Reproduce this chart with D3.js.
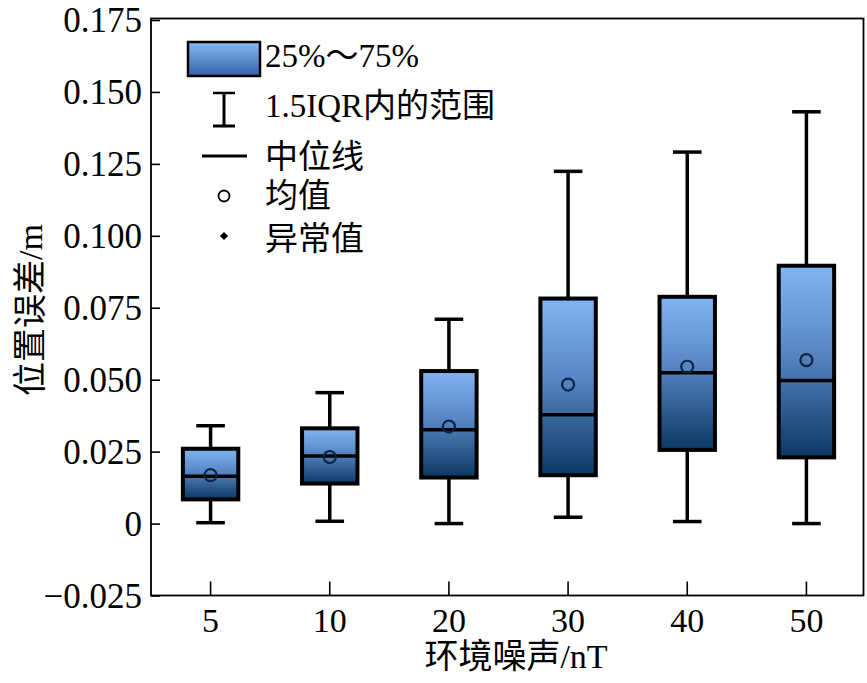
<!DOCTYPE html>
<html>
<head>
<meta charset="utf-8">
<script src="https://cdn.jsdelivr.net/npm/d3@7/dist/d3.min.js"></script>
<style>
html,body{margin:0;padding:0;background:#fff;}
svg{display:block;}
text{font-family:"Liberation Serif","Times New Roman","Noto Sans CJK SC",serif;fill:#000;}
</style>
</head>
<body>
<svg id="chart" width="867" height="683"></svg>
<script>
// ---- data ----
const categories = ["5","10","20","30","40","50"];
const whiskerLow  = [0.0003, 0.0008, 0.0000, 0.0022, 0.0007, 0.0000];
const q1Values    = [0.0084, 0.0139, 0.0160, 0.0168, 0.0256, 0.0230];
const medianValues= [0.0164, 0.0235, 0.0326, 0.0378, 0.0524, 0.0497];
const meanValues  = [0.0168, 0.0231, 0.0337, 0.0483, 0.0545, 0.0568];
const q3Values    = [0.0260, 0.0331, 0.0530, 0.0782, 0.0788, 0.0896];
const whiskerHigh = [0.0340, 0.0455, 0.0710, 0.1224, 0.1291, 0.1431];
const yTicks = [-0.025, 0, 0.025, 0.05, 0.075, 0.1, 0.125, 0.15, 0.175];
const yTickLabels = ["\u22120.025","0","0.025","0.050","0.075","0.100","0.125","0.150","0.175"];
const legendLabels = ["25%\uFF5E75%","1.5IQR内的范围","中位线","均值","异常值"];
const xTitle = "环境噪声/nT";
const yTitle = "位置误差/m";

const svg = d3.select("#chart");
const L = 151, R = 863.5, T = 20, B = 595.5;

const x = d3.scaleBand().domain(categories).range([L, 866]).paddingInner(0).paddingOuter(0);
const y = d3.scaleLinear().domain([-0.025, 0.175]).range([B, T]);

// gradients
const defs = svg.append("defs");
const g1 = defs.append("linearGradient").attr("id","boxGrad").attr("x1",0).attr("y1",0).attr("x2",0).attr("y2",1);
g1.append("stop").attr("offset","0%").attr("stop-color","#82b5f3");
g1.append("stop").attr("offset","45%").attr("stop-color","#5886c4");
g1.append("stop").attr("offset","100%").attr("stop-color","#0c3864");
const g2 = defs.append("linearGradient").attr("id","legGrad").attr("x1",0).attr("y1",0).attr("x2",0).attr("y2",1);
g2.append("stop").attr("offset","0%").attr("stop-color","#88baf4");
g2.append("stop").attr("offset","100%").attr("stop-color","#3464a8");

const data = categories.map((c,i)=>({c, lo:whiskerLow[i], q1:q1Values[i], med:medianValues[i], mean:meanValues[i], q3:q3Values[i], hi:whiskerHigh[i]}));

const boxW = x.bandwidth()*0.465;
const capW = x.bandwidth()*0.24;
const cx = d => x(d.c)+x.bandwidth()/2;

// y axis ticks (inward)
const yAxis = d3.axisLeft(y).tickValues(yTicks).tickSize(-9).tickPadding(9)
  .tickFormat((d,i)=>yTickLabels[i]);
const ya = svg.append("g").attr("transform",`translate(${L},0)`).call(yAxis);
ya.attr("font-family",null);
ya.select(".domain").remove();
ya.selectAll(".tick line").attr("stroke","#000").attr("stroke-width",1.6);
ya.selectAll(".tick text").attr("font-size",35).attr("dy","0.34em");

// x axis ticks (inward)
const xAxis = d3.axisBottom(x).tickSize(-14).tickPadding(12);
const xa = svg.append("g").attr("transform",`translate(0,${B})`).call(xAxis);
xa.attr("font-family",null);
xa.select(".domain").remove();
xa.selectAll(".tick line").attr("stroke","#000").attr("stroke-width",1.6);
xa.selectAll(".tick text").attr("font-size",34).attr("dy","0.71em");

// frame
svg.append("rect").attr("x",L).attr("y",T-1.5).attr("width",R-L).attr("height",B-T+1.5)
  .attr("fill","none").attr("stroke","#000").attr("stroke-width",1.8);

// boxes
const gb = svg.append("g");
const bx = gb.selectAll("g.box").data(data).join("g").attr("class","box");
bx.append("line").attr("x1",cx).attr("x2",cx)
  .attr("y1",d=>y(d.hi)).attr("y2",d=>y(d.q3)).attr("stroke","#000").attr("stroke-width",3.5);
bx.append("line").attr("x1",cx).attr("x2",cx)
  .attr("y1",d=>y(d.q1)).attr("y2",d=>y(d.lo)).attr("stroke","#000").attr("stroke-width",3.5);
bx.append("line").attr("x1",d=>cx(d)-capW/2).attr("x2",d=>cx(d)+capW/2)
  .attr("y1",d=>y(d.hi)).attr("y2",d=>y(d.hi)).attr("stroke","#000").attr("stroke-width",3.5);
bx.append("line").attr("x1",d=>cx(d)-capW/2).attr("x2",d=>cx(d)+capW/2)
  .attr("y1",d=>y(d.lo)).attr("y2",d=>y(d.lo)).attr("stroke","#000").attr("stroke-width",3.5);
bx.append("rect").attr("x",d=>cx(d)-boxW/2).attr("width",boxW)
  .attr("y",d=>y(d.q3)).attr("height",d=>y(d.q1)-y(d.q3))
  .attr("fill","url(#boxGrad)").attr("stroke","#000").attr("stroke-width",4);
bx.append("line").attr("x1",d=>cx(d)-boxW/2).attr("x2",d=>cx(d)+boxW/2)
  .attr("y1",d=>y(d.med)).attr("y2",d=>y(d.med)).attr("stroke","#000").attr("stroke-width",3.5);
bx.append("circle").attr("cx",cx).attr("cy",d=>y(d.mean)).attr("r",6)
  .attr("fill","none").attr("stroke","#0a2548").attr("stroke-width",2.2);

// legend
const lg = svg.append("g");
lg.append("rect").attr("x",188).attr("y",42).attr("width",72).attr("height",34)
  .attr("fill","url(#legGrad)").attr("stroke","#000").attr("stroke-width",2.5);
lg.append("line").attr("x1",224).attr("x2",224).attr("y1",93).attr("y2",126).attr("stroke","#000").attr("stroke-width",3);
lg.append("line").attr("x1",213).attr("x2",235).attr("y1",93).attr("y2",93).attr("stroke","#000").attr("stroke-width",2.5);
lg.append("line").attr("x1",213).attr("x2",235).attr("y1",126).attr("y2",126).attr("stroke","#000").attr("stroke-width",3);
lg.append("line").attr("x1",202).attr("x2",247).attr("y1",156).attr("y2",156).attr("stroke","#000").attr("stroke-width",3);
lg.append("circle").attr("cx",224).attr("cy",196).attr("r",5.5).attr("fill","none").attr("stroke","#000").attr("stroke-width",1.8);
lg.append("path").attr("d",d3.symbol().type(d3.symbolSquare).size(34)()).attr("transform","translate(224,236) rotate(45)").attr("fill","#000");
const legY = [67,117,168,207,250];
lg.selectAll("text.leg").data(legendLabels).join("text").attr("class","leg")
  .attr("x",265).attr("y",(d,i)=>legY[i]).attr("font-size",33).text(d=>d);

// titles
svg.append("text").attr("x",516).attr("y",668).attr("text-anchor","middle").attr("font-size",34).text(xTitle);
svg.append("text").attr("transform","translate(42,310) rotate(-90)").attr("text-anchor","middle").attr("font-size",34).text(yTitle);
</script>
</body>
</html>
